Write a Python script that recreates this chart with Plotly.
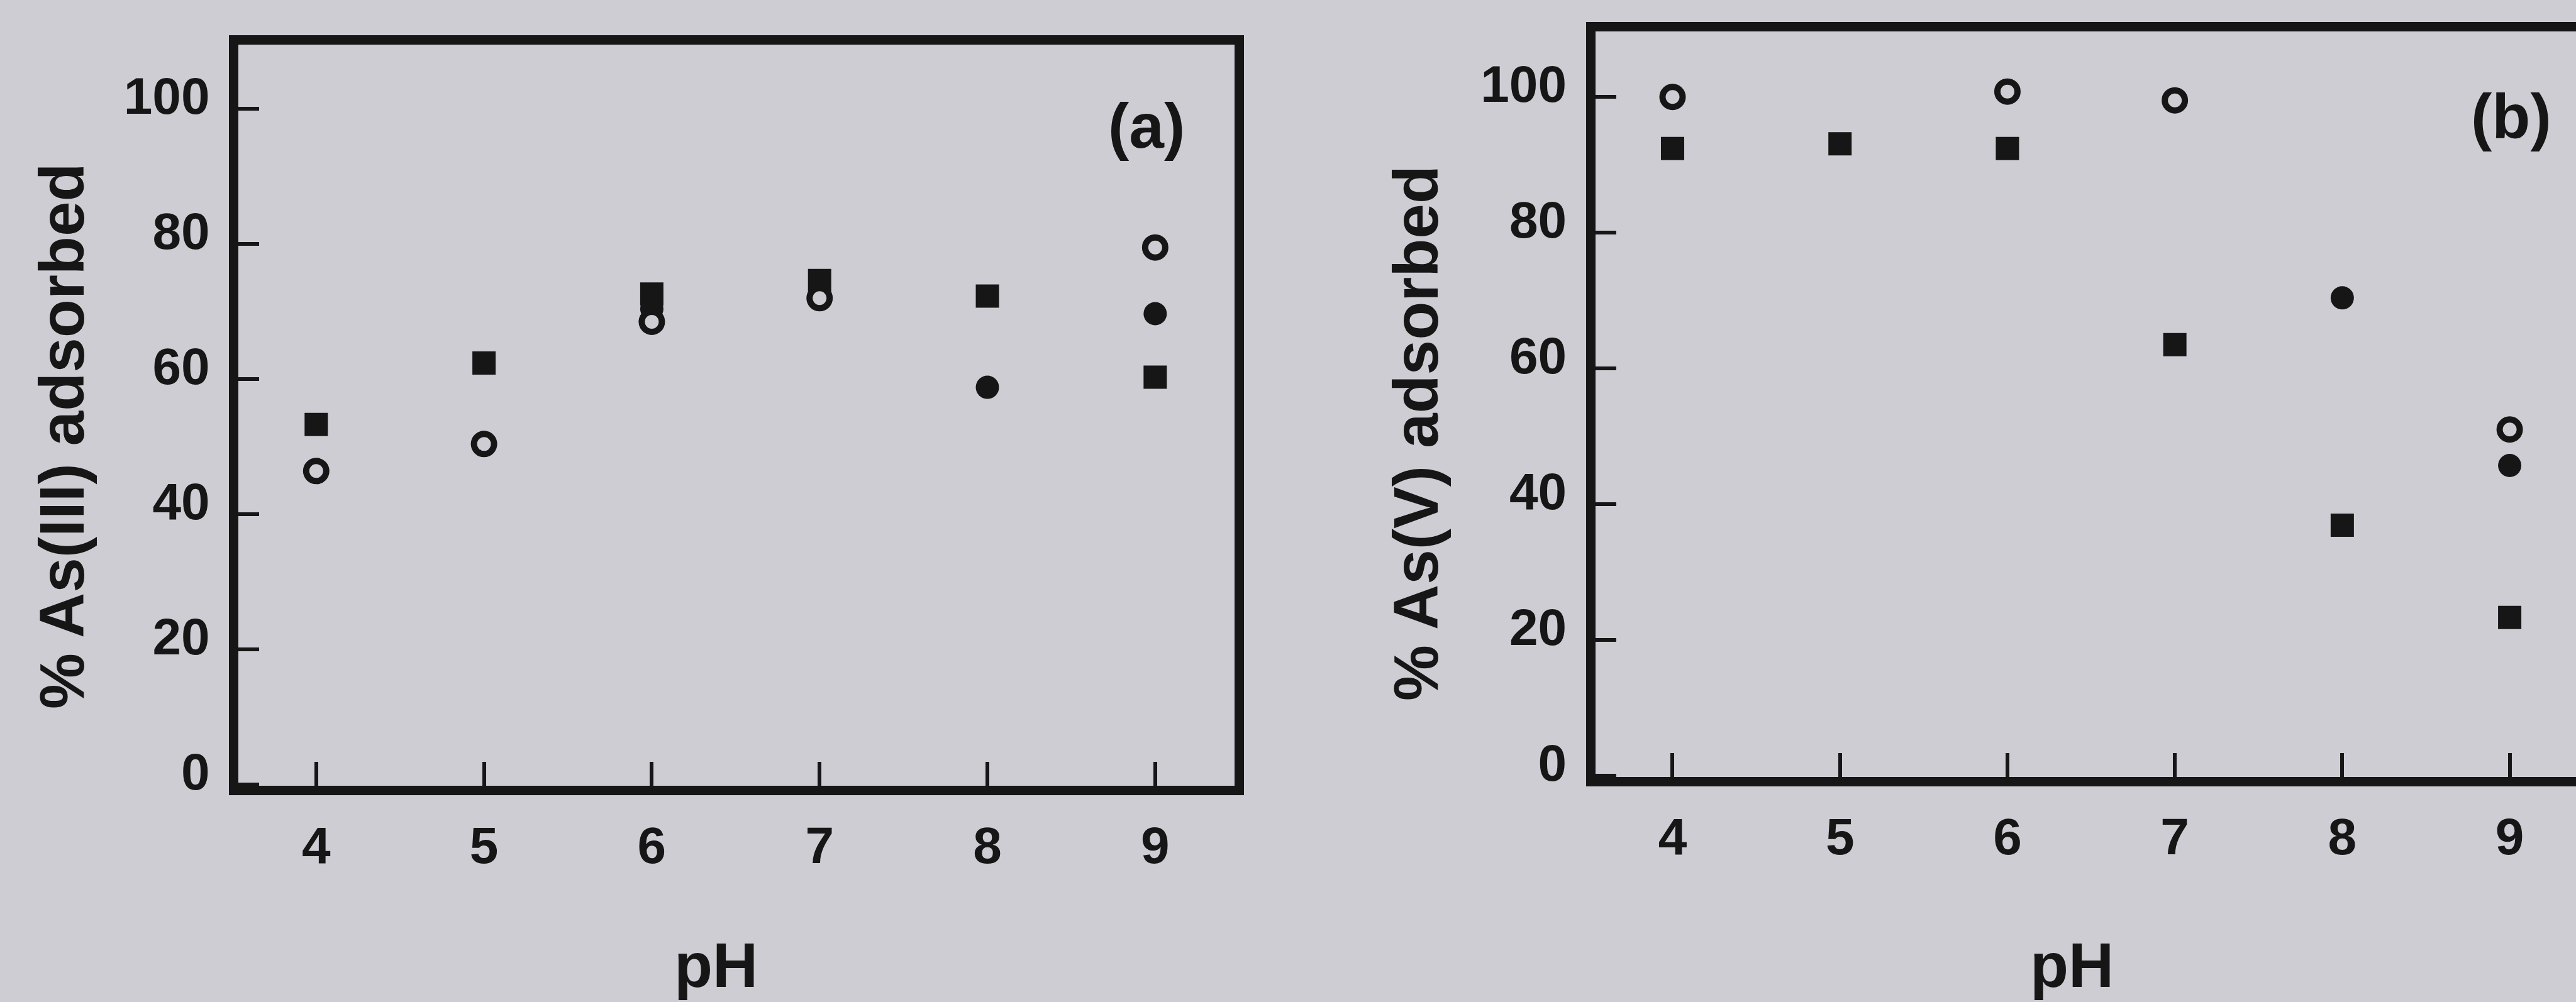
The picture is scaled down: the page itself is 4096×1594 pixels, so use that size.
import plotly.graph_objects as go

# ---------------- data ----------------
x_ticks = [4, 5, 6, 7, 8, 9]
y_ticks = [0, 20, 40, 60, 80, 100]

# Panel (a): % As(III) adsorbed vs pH
a_sq_x = [4, 5, 6, 7, 8, 9]
a_sq_y = [53.3, 62.4, 72.6, 74.6, 72.3, 60.3]
a_fc_x = [6, 8, 9]
a_fc_y = [70.4, 58.8, 69.7]
a_oc_x = [4, 5, 6, 7, 9]
a_oc_y = [46.4, 50.4, 68.5, 72.0, 79.5]

# Panel (b): % As(V) adsorbed vs pH
b_sq_x = [4, 5, 6, 7, 8, 9]
b_sq_y = [92.4, 93.1, 92.4, 63.5, 36.9, 23.3]
b_fc_x = [8, 9]
b_fc_y = [70.4, 45.7]
b_oc_x = [4, 6, 7, 9]
b_oc_y = [100.0, 100.8, 99.5, 51.0]

# ---------------- style ----------------
W, H = 4096, 1594
BG = "#cfcdd4"
INK = "#161616"
FONT = "Arial, Liberation Sans, sans-serif"
LW = 15

sq_marker = dict(symbol="square", size=37, color=INK)
fc_marker = dict(symbol="circle", size=37, color=INK)
oc_marker = dict(symbol="circle", size=32, color=BG, line=dict(color=INK, width=10))

fig = go.Figure()
for xs, ys, mk, ax in [
    (a_sq_x, a_sq_y, sq_marker, ("x", "y")),
    (a_fc_x, a_fc_y, fc_marker, ("x", "y")),
    (a_oc_x, a_oc_y, oc_marker, ("x", "y")),
    (b_sq_x, b_sq_y, sq_marker, ("x2", "y2")),
    (b_fc_x, b_fc_y, fc_marker, ("x2", "y2")),
    (b_oc_x, b_oc_y, oc_marker, ("x2", "y2")),
]:
    fig.add_trace(go.Scatter(x=xs, y=ys, mode="markers", marker=mk,
                             xaxis=ax[0], yaxis=ax[1], showlegend=False,
                             cliponaxis=False))

tickfont = dict(family=FONT, size=82, color=INK, weight="bold")

def xax(domain, rng, mirror):
    return dict(domain=domain, range=rng, showline=True, linewidth=LW, linecolor=INK,
                mirror=mirror, ticks="inside", ticklen=38, tickwidth=6, tickcolor=INK,
                tickmode="array", tickvals=x_ticks, tickfont=tickfont,
                showgrid=False, zeroline=False, ticklabelstandoff=10,
                automargin=False)

def yax(domain, rng, mirror, anchor):
    return dict(domain=domain, range=rng, showline=True, linewidth=LW, linecolor=INK,
                mirror=mirror, ticks="inside", ticklen=33, tickwidth=6, tickcolor=INK,
                tickmode="array", tickvals=y_ticks, tickfont=tickfont,
                showgrid=False, zeroline=False, ticklabelstandoff=14,
                ticklabelshift=-21, anchor=anchor, automargin=False)

fig.update_layout(
    width=W, height=H,
    margin=dict(l=0, r=0, t=0, b=0, autoexpand=False),
    paper_bgcolor=BG, plot_bgcolor=BG,
    xaxis=dict(**xax([379 / W, 1962.5 / W], [3.536, 9.471], True), anchor="y"),
    yaxis=yax([1 - 1250 / H, 1 - 71.4 / H], [-0.2, 109.5], True, "x"),
    xaxis2=dict(**xax([2536.5 / W, 1.0], [3.538, 9.396], True), anchor="y2"),
    yaxis2=yax([1 - 1236 / H, 1 - 50.2 / H], [-0.2, 109.64], False, "x2"),
)

title_font = dict(family=FONT, size=100, color=INK, weight="bold")
annots = [
    ("% As(III) adsorbed", 98, 694, -90),
    ("% As(V) adsorbed", 2251, 689, -90),
    ("pH", 1138, 1535, 0),
    ("pH", 3294, 1535, 0),
    ("(a)", 1823, 200, 0),
    ("(b)", 3993, 185, 0),
]
for txt, px, py, ang in annots:
    fig.add_annotation(text=txt, x=px / W, y=1 - py / H, xref="paper", yref="paper",
                       showarrow=False, textangle=ang, font=title_font,
                       xanchor="center", yanchor="middle")

fig.write_html("out.html")
